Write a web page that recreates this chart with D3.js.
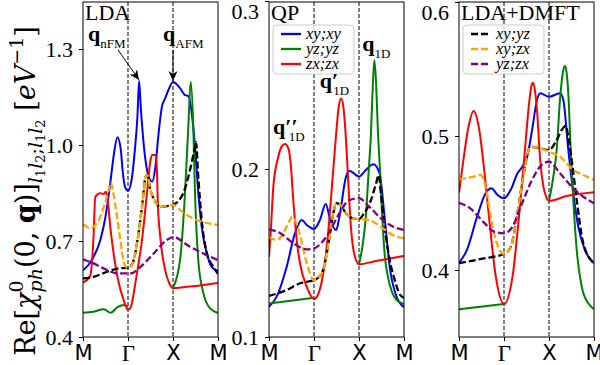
<!DOCTYPE html>
<html>
<meta charset="utf-8">
<style>
  body { margin: 0; background: #fff; }
  .tick text { fill: #000; }
  .title_text { font-family: "Liberation Serif", serif; font-size: 22px; }
  .legend_text { font-family: "Liberation Serif", serif; font-size: 16.5px; font-style: italic; }
</style>
<body>
<script src="https://d3js.org/d3.v7.min.js" charset="utf-8"></script>
<script>

var width = 600
var height = 365

// path through the Brillouin zone, M - Gamma - X - M
var pathTicks = [0, 1, 2, 3];
var pathLabels = ["M", "Γ", "X", "M"];

var seriesNames = ["xy;xy", "yz;yz", "zx;zx", "xy;yz", "xy;zx", "yz;zx"];

// ---- LDA ----
var ldaTicks = [0.4, 0.7, 1.0, 1.3];
var ldaXY = [[0,0.609],[0.12,0.625],[0.235,0.651],[0.386,0.703],[0.5,0.776],[0.614,0.89],[0.689,0.974],[0.766,1.024],[0.841,0.984],[0.879,0.922],[0.932,0.87],[1.0,0.857],[1.1,0.911],[1.152,0.984],[1.21,1.09],[1.246,1.2],[1.283,1.12],[1.354,0.995],[1.463,0.9],[1.537,0.886],[1.609,0.932],[1.68,1.037],[1.754,1.12],[1.826,1.146],[1.898,1.172],[2.0,1.197],[2.156,1.178],[2.267,1.156],[2.34,1.153],[2.451,1.056],[2.511,0.953],[2.562,0.85],[2.638,0.744],[2.749,0.663],[2.86,0.619],[3.0,0.606]];
var ldaYZ = [[0,0.476],[0.234,0.479],[0.461,0.487],[0.614,0.476],[0.766,0.493],[0.916,0.5],[1.0,0.495],[1.5,null],[2.0,0.553],[2.156,0.64],[2.267,0.85],[2.34,1.056],[2.393,1.198],[2.451,1.056],[2.489,0.85],[2.562,0.64],[2.673,0.538],[2.822,0.49],[3.0,0.475]];
var ldaZX = [[0,0.57],[0.159,0.59],[0.234,0.713],[0.273,0.838],[0.386,0.849],[0.461,0.847],[0.5,0.854],[0.539,0.838],[0.614,0.734],[0.766,0.588],[0.916,0.51],[1.0,0.485],[1.065,0.495],[1.174,0.578],[1.32,0.713],[1.428,0.859],[1.5,0.953],[1.537,0.969],[1.624,0.969],[1.646,0.906],[1.663,0.819],[1.717,0.713],[1.826,0.609],[1.913,0.569],[2.0,0.552],[2.267,0.556],[2.6,0.561],[3.0,0.569]];
var ldaXYYZ = [[0,0.583],[0.234,0.588],[0.539,0.604],[0.766,0.614],[1.0,0.617],[1.102,0.63],[1.211,0.703],[1.32,0.818],[1.391,0.901],[1.428,0.906],[1.5,0.859],[1.609,0.823],[1.717,0.807],[1.863,0.809],[2.0,0.813],[2.229,0.85],[2.378,0.922],[2.489,0.995],[2.511,1.01],[2.562,0.9],[2.638,0.766],[2.749,0.663],[2.896,0.62],[3.0,0.597]];
var ldaXYZX = [[0,0.753],[0.159,0.74],[0.273,0.75],[0.386,0.776],[0.461,0.807],[0.552,0.849],[0.614,0.882],[0.689,0.838],[0.766,0.766],[0.841,0.693],[0.916,0.63],[1.0,0.615],[1.102,0.63],[1.211,0.703],[1.32,0.818],[1.391,0.901],[1.428,0.906],[1.5,0.859],[1.609,0.823],[1.717,0.807],[1.863,0.809],[2.0,0.813],[2.229,0.788],[2.527,0.766],[3.0,0.75]];
var ldaYZZX = [[0,0.643],[0.234,0.63],[0.539,0.609],[0.766,0.599],[1.065,0.599],[1.283,0.62],[1.572,0.661],[1.863,0.703],[2.0,0.712],[2.378,0.682],[2.673,0.661],[3.0,0.64]];

// ---- QP ----
var qpTicks = [0.1, 0.2, 0.3];
var qpXY = [[0,0.118],[0.171,0.124],[0.393,0.1418],[0.578,0.1619],[0.727,0.1696],[0.838,0.1667],[1.0,0.1643],[1.13,0.1696],[1.261,0.1792],[1.363,0.1696],[1.493,0.1637],[1.565,0.1716],[1.711,0.1954],[1.783,0.199],[2.0,0.1955],[2.152,0.1994],[2.318,0.2028],[2.455,0.1976],[2.568,0.1716],[2.682,0.1418],[2.834,0.124],[3.0,0.1177]];
var qpYZ = [[0,0.12],[1.0,0.1234],[1.5,null],[2.0,0.1433],[2.076,0.1538],[2.152,0.1716],[2.212,0.1974],[2.266,0.2213],[2.303,0.247],[2.341,0.2649],[2.38,0.251],[2.416,0.2252],[2.47,0.1974],[2.516,0.1716],[2.568,0.15],[2.643,0.1359],[2.834,0.122],[3.0,0.1196]];
var qpZX = [[0,0.1478],[0.037,0.1617],[0.096,0.1895],[0.207,0.2073],[0.281,0.2133],[0.356,0.2149],[0.43,0.2123],[0.481,0.2034],[0.54,0.1815],[0.616,0.1577],[0.689,0.1439],[0.838,0.13],[1.0,0.1226],[1.1,0.126],[1.2,0.137],[1.3,0.158],[1.4,0.19],[1.493,0.2213],[1.55,0.2371],[1.602,0.242],[1.652,0.2371],[1.711,0.2173],[1.767,0.1895],[1.82,0.1657],[1.891,0.1498],[2.0,0.1433],[2.38,0.1452],[3.0,0.1482]];
var qpXYYZ = [[0,0.1244],[0.393,0.128],[0.689,0.132],[1.0,0.1339],[1.087,0.1351],[1.202,0.1399],[1.348,0.1597],[1.435,0.1744],[1.493,0.1796],[1.565,0.1792],[1.711,0.1736],[1.854,0.1707],[2.0,0.1702],[2.114,0.1736],[2.266,0.1815],[2.38,0.1915],[2.439,0.1964],[2.493,0.1835],[2.568,0.1657],[2.682,0.1458],[2.795,0.1339],[2.893,0.126],[3.0,0.1232]];
var qpXYZX = [[0,0.1595],[0.171,0.1577],[0.318,0.1617],[0.444,0.1685],[0.52,0.1716],[0.622,0.1667],[0.689,0.1607],[0.838,0.1439],[1.0,0.1339],[1.087,0.1351],[1.202,0.1399],[1.348,0.1597],[1.435,0.1744],[1.493,0.1796],[1.565,0.1792],[1.711,0.1736],[1.854,0.1707],[2.0,0.1702],[2.227,0.1696],[2.53,0.1647],[2.75,0.1607],[3.0,0.1588]];
var qpYZZX = [[0,0.1641],[0.244,0.1619],[0.54,0.1558],[0.838,0.1522],[1.0,0.1528],[1.276,0.1597],[1.565,0.1736],[1.783,0.1815],[2.0,0.1826],[2.227,0.1776],[2.53,0.1696],[2.757,0.1657],[3.0,0.1637]];

// ---- LDA+DMFT ----
var dmftTicks = [0.4, 0.5, 0.6];
var dmftXY = [[0,0.4054],[0.175,0.4149],[0.402,0.4398],[0.591,0.4572],[0.72,0.461],[0.857,0.456],[1.0,0.4535],[1.152,0.46],[1.298,0.472],[1.407,0.4771],[1.515,0.4846],[1.624,0.5045],[1.733,0.5269],[1.804,0.5319],[2.0,0.5293],[2.244,0.5319],[2.318,0.5269],[2.429,0.4896],[2.54,0.4572],[2.651,0.4323],[2.8,0.4149],[3.0,0.405]];
var dmftYZ = [[0,0.3707],[1.0,0.3746],[1.5,null],[2.0,0.4515],[2.096,0.4696],[2.171,0.4896],[2.244,0.5269],[2.318,0.5493],[2.356,0.5522],[2.393,0.5468],[2.429,0.5319],[2.482,0.4896],[2.54,0.4522],[2.616,0.4149],[2.727,0.3875],[2.873,0.3751],[3.0,0.3707]];
var dmftZX = [[0,0.4577],[0.098,0.4821],[0.211,0.5069],[0.325,0.5187],[0.439,0.5069],[0.552,0.4771],[0.666,0.4398],[0.818,0.395],[1.0,0.3746],[1.189,0.395],[1.333,0.4398],[1.478,0.4946],[1.55,0.5219],[1.609,0.5373],[1.646,0.5398],[1.68,0.5356],[1.733,0.5194],[1.804,0.4821],[1.876,0.4622],[1.95,0.4535],[2.0,0.4515],[2.393,0.4552],[3.0,0.458]];
var dmftXYYZ = [[0,0.405],[0.552,0.4087],[1.0,0.4119],[1.152,0.4174],[1.298,0.4423],[1.441,0.4722],[1.587,0.492],[1.804,0.4908],[2.0,0.4896],[2.171,0.497],[2.282,0.5045],[2.371,0.5075],[2.429,0.4995],[2.504,0.4821],[2.616,0.4522],[2.762,0.4199],[3.0,0.405]];
var dmftXYZX = [[0,0.4677],[0.325,0.4696],[0.477,0.4709],[0.591,0.4622],[0.705,0.4398],[0.818,0.4224],[1.0,0.4119],[1.152,0.4174],[1.298,0.4423],[1.441,0.4722],[1.587,0.492],[1.804,0.4908],[2.0,0.4883],[2.244,0.4846],[2.54,0.4746],[2.762,0.4709],[3.0,0.4672]];
var dmftYZZX = [[0,0.4502],[0.25,0.446],[0.552,0.4355],[0.78,0.4286],[1.0,0.4274],[1.189,0.4323],[1.37,0.4472],[1.659,0.4696],[1.876,0.4796],[2.0,0.4808],[2.244,0.4722],[2.54,0.461],[2.762,0.4547],[3.0,0.4498]];

var serif = "'Liberation Serif', 'DejaVu Serif', serif";
var wideSerif = "'DejaVu Serif', serif";
var sans = "'DejaVu Sans', sans-serif";

var styles = [
  {color: "blue", dash: null},
  {color: "green", dash: null},
  {color: "red", dash: null},
  {color: "black", dash: "7,3"},
  {color: "orange", dash: "7,3"},
  {color: "purple", dash: "7,3"}
];

var panels = [
  {left: 83, yDomain: [0.4, 1.447], ticks: ldaTicks, title: "LDA",
   series: [ldaXY, ldaYZ, ldaZX, ldaXYYZ, ldaXYZX, ldaYZZX]},
  {left: 269, yDomain: [0.1, 0.2994], ticks: qpTicks, title: "QP", legend: [0, 1, 2],
   series: [qpXY, qpYZ, qpZX, qpXYYZ, qpXYZX, qpYZZX]},
  {left: 459, yDomain: [0.35, 0.6], ticks: dmftTicks, title: "LDA+DMFT", legend: [3, 4, 5],
   series: [dmftXY, dmftYZ, dmftZX, dmftXYYZ, dmftXYZX, dmftYZZX]}
];

var panelW = 135, plotTop = 2, plotBottom = 337;

var svg = d3.select("body")
  .append("svg")
  .attr("width", width)
  .attr("height", height);

var defs = svg.append("defs");
defs.append("marker")
  .attr("id", "arrow")
  .attr("viewBox", "0 -5 10 10")
  .attr("refX", 10).attr("refY", 0)
  .attr("markerWidth", 10).attr("markerHeight", 10)
  .attr("markerUnits", "userSpaceOnUse")
  .attr("orient", "auto")
  .append("path")
  .attr("d", "M0,-4.5L10,0L0,4.5L3,0Z")
  .attr("fill", "black");

var fmt = d3.format(".1f");
var scales = [];

panels.forEach(function (p, i) {
  var x = d3.scaleLinear().domain([0, 3]).range([p.left, p.left + panelW]);
  var y = d3.scaleLinear().domain(p.yDomain).range([plotBottom, plotTop]);
  scales.push({x: x, y: y});
  var g = svg.append("g");

  defs.append("clipPath").attr("id", "clip" + i)
    .append("rect").attr("x", p.left).attr("y", plotTop)
    .attr("width", panelW).attr("height", plotBottom - plotTop);

  // vertical guides at Gamma and X
  g.selectAll(".guide")
    .data([1, 2])
    .enter().append("line")
    .attr("x1", function (d) { return x(d); }).attr("x2", function (d) { return x(d); })
    .attr("y1", plotTop).attr("y2", plotBottom)
    .attr("stroke", "black").attr("stroke-width", 1)
    .attr("stroke-dasharray", "4,2");

  var line = d3.line()
    .defined(function (d) { return d[1] !== null; })
    .x(function (d) { return x(d[0]); })
    .y(function (d) { return y(d[1]); })
    .curve(d3.curveMonotoneX);

  var lines = g.append("g").attr("clip-path", "url(#clip" + i + ")");
  p.series.forEach(function (s, k) {
    lines.append("path")
      .attr("d", line(s))
      .attr("fill", "none")
      .attr("stroke", styles[k].color)
      .attr("stroke-width", styles[k].dash ? 2.3 : 2)
      .attr("stroke-dasharray", styles[k].dash);
  });

  // frame
  g.append("rect")
    .attr("x", p.left).attr("y", plotTop)
    .attr("width", panelW).attr("height", plotBottom - plotTop)
    .attr("fill", "none").attr("stroke", "black").attr("stroke-width", 1);

  // y axis
  var ya = g.append("g")
    .attr("transform", "translate(" + p.left + ",0)")
    .call(d3.axisLeft(y).tickValues(p.ticks).tickFormat(fmt).tickSize(4).tickPadding(6));
  ya.select(".domain").remove();
  ya.selectAll("text")
    .attr("font-family", serif).attr("font-size", 22)
    .each(function (d) {
      if (y(d) - plotTop < 6) d3.select(this).attr("y", 10);
    });

  // x axis
  var xa = g.append("g")
    .attr("transform", "translate(0," + plotBottom + ")")
    .call(d3.axisBottom(x).tickValues(pathTicks)
      .tickFormat(function (d, j) { return pathLabels[j]; })
      .tickSize(4).tickPadding(4));
  xa.select(".domain").remove();
  xa.selectAll("text")
    .attr("font-family", function (d, j) { return pathLabels[j] === "Γ" ? serif : sans; })
    .attr("font-size", function (d, j) { return pathLabels[j] === "Γ" ? 23 : 21; });

  // panel title
  g.append("text")
    .attr("class", "title_text")
    .attr("x", p.left + 2).attr("y", 20)
    .text(p.title);

  // legend
  if (p.legend) {
    var lg = g.append("g").attr("transform", "translate(" + (p.left + 4) + ",25)");
    lg.append("rect")
      .attr("width", 81).attr("height", 49).attr("rx", 4)
      .attr("fill", "white").attr("fill-opacity", 0.8)
      .attr("stroke", "#cccccc").attr("stroke-width", 1);
    p.legend.forEach(function (k, r) {
      var yy = 9 + r * 15;
      lg.append("line")
        .attr("x1", 8).attr("x2", 28).attr("y1", yy).attr("y2", yy)
        .attr("stroke", styles[k].color).attr("stroke-width", 2.3)
        .attr("stroke-dasharray", styles[k].dash);
      lg.append("text")
        .attr("class", "legend_text")
        .attr("x", 33).attr("y", yy + 5)
        .text(seriesNames[k]);
    });
  }
});

// bold q annotations, subscript tucked under the primes
function qLabel(px, py, primes, sub, back) {
  var t = svg.append("text")
    .attr("x", px).attr("y", py)
    .attr("font-family", serif);
  t.append("tspan").text("q" + primes)
    .attr("font-weight", "bold").attr("font-size", 22);
  t.append("tspan").text(sub)
    .attr("font-size", 13).attr("dy", 7).attr("dx", -back);
}

var s0 = scales[0], s1 = scales[1];
qLabel(s0.x(0.11), s0.y(1.325), "", "nFM", 0);
qLabel(s0.x(1.78), s0.y(1.325), "", "AFM", 0);
qLabel(s1.x(0.09), s1.y(0.2208), "′′", "1D", 9);
qLabel(s1.x(1.13), s1.y(0.2482), "′", "1D", 5);
qLabel(s1.x(2.07), s1.y(0.2702), "", "1D", 0);

// arrows to the LDA peaks
svg.append("line")
  .attr("x1", s0.x(0.78)).attr("y1", s0.y(1.297))
  .attr("x2", s0.x(1.246)).attr("y2", s0.y(1.203))
  .attr("stroke", "black").attr("stroke-width", 1)
  .attr("marker-end", "url(#arrow)");
svg.append("line")
  .attr("x1", s0.x(2)).attr("y1", s0.y(1.297))
  .attr("x2", s0.x(2)).attr("y2", s0.y(1.2))
  .attr("stroke", "black").attr("stroke-width", 1)
  .attr("marker-end", "url(#arrow)");

// y label, rotated, built from pieces (shift > 0 is down)
var yLabel = svg.append("text")
  .attr("transform", "translate(35,191) rotate(-90)")
  .attr("text-anchor", "middle")
  .attr("font-family", wideSerif);

var pieces = [
  {s: "Re[", size: 27},
  {s: "χ", size: 27, italic: true},
  {s: "0", size: 19, shift: -12},
  {s: "ph", size: 19, italic: true, shift: 7, dx: -12},
  {s: "(0, ", size: 27},
  {s: "q", size: 27, bold: true},
  {s: ")]", size: 27},
  {s: "l", size: 19, italic: true, shift: 7},
  {s: "1", size: 13, shift: 10},
  {s: "l", size: 19, italic: true, shift: 7},
  {s: "2", size: 13, shift: 10},
  {s: ";", size: 19, shift: 7},
  {s: "l", size: 19, italic: true, shift: 7},
  {s: "1", size: 13, shift: 10},
  {s: "l", size: 19, italic: true, shift: 7},
  {s: "2", size: 13, shift: 10},
  {s: " [", size: 27},
  {s: "eV", size: 27, italic: true},
  {s: "−1", size: 19, shift: -12},
  {s: "]", size: 27}
];
var cur = 0;
pieces.forEach(function (p) {
  var sh = p.shift || 0;
  var t = yLabel.append("tspan")
    .text(p.s)
    .attr("font-size", p.size)
    .attr("dy", sh - cur);
  if (p.dx) t.attr("dx", p.dx);
  if (p.italic) t.attr("font-style", "italic");
  if (p.bold) t.attr("font-weight", "bold");
  cur = sh;
});

</script>
</body>
</html>
